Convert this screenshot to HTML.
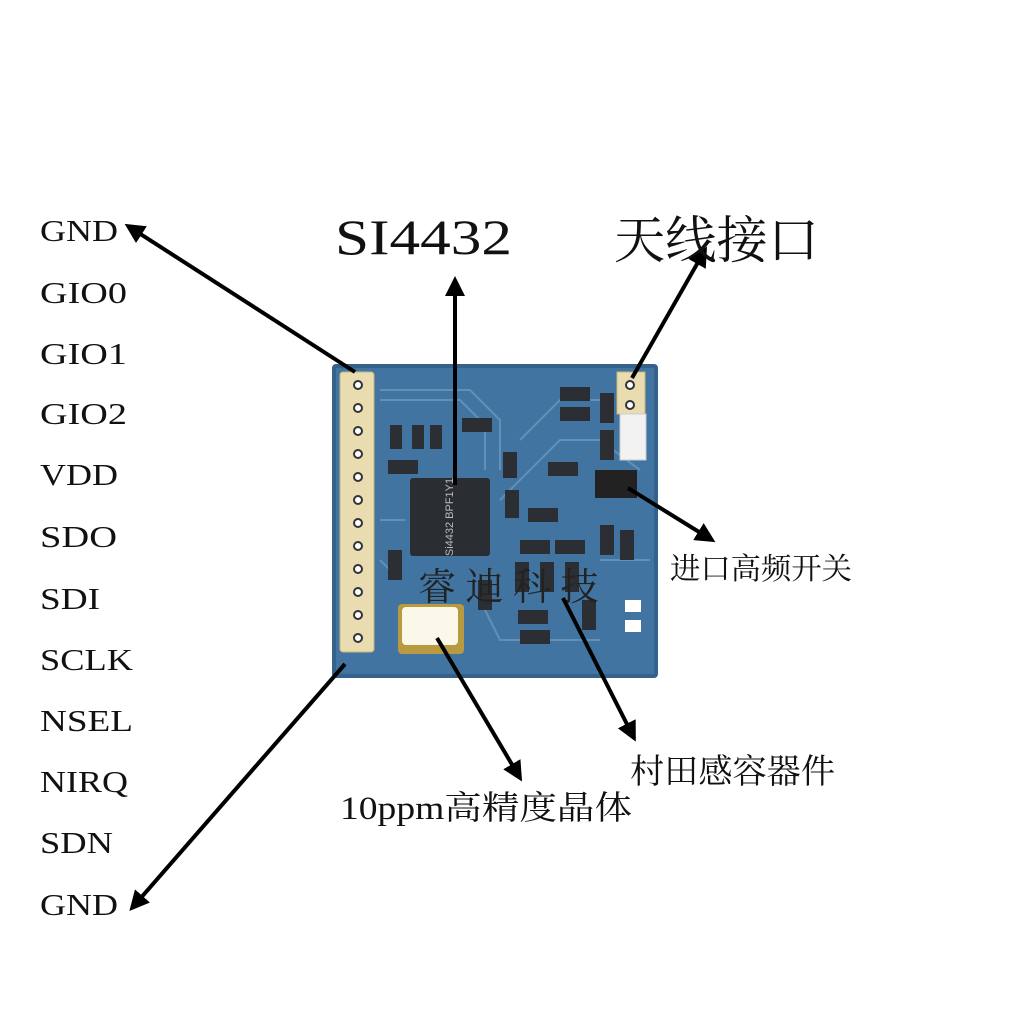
<!DOCTYPE html>
<html><head><meta charset="utf-8"><style>
html,body{margin:0;padding:0;background:#fff;width:1024px;height:1024px;overflow:hidden}
</style></head><body>
<svg width="1024" height="1024" viewBox="0 0 1024 1024" xmlns="http://www.w3.org/2000/svg">
<defs>
<marker id="ah" viewBox="0 0 10 10" refX="8" refY="5" markerWidth="5" markerHeight="5" orient="auto-start-reverse"><path d="M0,0 L10,5 L0,10 z" fill="#000"/></marker>
</defs>
<rect x="332" y="364" width="326" height="314" rx="4" fill="#35628c"/>
<rect x="336" y="368" width="318" height="306" fill="#4174a0"/>
<g stroke="#6f9cc4" stroke-width="2" fill="none" opacity="0.7">
<path d="M380 390 H470 L500 420 V470"/><path d="M380 400 H460 L485 425 V470"/>
<path d="M380 520 H405"/><path d="M500 500 L560 440 H600 L640 470"/>
<path d="M520 440 L560 400 H600"/><path d="M480 600 L500 640 H600"/>
<path d="M600 560 H650"/><path d="M380 560 L400 580"/>
</g>
<g fill="#e8dcb0" stroke="#c8b67a">
<rect x="340" y="372" width="34" height="280" rx="3"/>
<rect x="617" y="372" width="28" height="42"/>
<rect x="620" y="414" width="26" height="46" fill="#f2f2f2" stroke="#ccc"/>
</g>
<g fill="#fff" stroke="#333" stroke-width="2">
<circle cx="358" cy="385" r="4"/><circle cx="358" cy="408" r="4"/><circle cx="358" cy="431" r="4"/><circle cx="358" cy="454" r="4"/><circle cx="358" cy="477" r="4"/><circle cx="358" cy="500" r="4"/><circle cx="358" cy="523" r="4"/><circle cx="358" cy="546" r="4"/><circle cx="358" cy="569" r="4"/><circle cx="358" cy="592" r="4"/><circle cx="358" cy="615" r="4"/><circle cx="358" cy="638" r="4"/>
<circle cx="630" cy="385" r="4"/><circle cx="630" cy="405" r="4"/>
</g>
<rect x="410" y="478" width="80" height="78" rx="3" fill="#2a2e33"/>
<text x="450" y="520" font-family="Liberation Sans,sans-serif" font-size="11" fill="#bbb" text-anchor="middle" transform="rotate(-90 450 517)">Si4432 BPF1Y1</text>
<rect x="398" y="604" width="66" height="50" rx="4" fill="#b89a40"/>
<rect x="402" y="607" width="56" height="38" rx="4" fill="#fbf8ea"/>
<rect x="595" y="470" width="42" height="28" fill="#222"/>
<g fill="#2b2f33">
<rect x="390" y="425" width="12" height="24"/><rect x="412" y="425" width="12" height="24"/><rect x="430" y="425" width="12" height="24"/>
<rect x="388" y="460" width="30" height="14"/><rect x="462" y="418" width="30" height="14"/>
<rect x="503" y="452" width="14" height="26"/><rect x="505" y="490" width="14" height="28"/>
<rect x="528" y="508" width="30" height="14"/><rect x="548" y="462" width="30" height="14"/>
<rect x="560" y="387" width="30" height="14"/><rect x="560" y="407" width="30" height="14"/>
<rect x="600" y="393" width="14" height="30"/><rect x="600" y="430" width="14" height="30"/>
<rect x="520" y="540" width="30" height="14"/><rect x="555" y="540" width="30" height="14"/>
<rect x="600" y="525" width="14" height="30"/><rect x="620" y="530" width="14" height="30"/>
<rect x="515" y="562" width="14" height="30"/><rect x="540" y="562" width="14" height="30"/><rect x="565" y="562" width="14" height="30"/>
<rect x="388" y="550" width="14" height="30"/><rect x="478" y="580" width="14" height="30"/>
<rect x="518" y="610" width="30" height="14"/><rect x="520" y="630" width="30" height="14"/>
<rect x="582" y="600" width="14" height="30"/>
</g>
<rect x="625" y="600" width="16" height="12" fill="#fff"/><rect x="625" y="620" width="16" height="12" fill="#fff"/>
<text x="418" y="600" font-family="Liberation Serif,'Noto Serif CJK SC',serif" font-size="38" fill="#222">睿 迪 科 技</text>
<g stroke="#000" stroke-width="4" fill="none" marker-end="url(#ah)">
<line x1="355" y1="372" x2="128" y2="226"/>
<line x1="345" y1="664" x2="132" y2="908"/>
<line x1="455" y1="485" x2="455" y2="280"/>
<line x1="632" y1="378" x2="705" y2="250"/>
<line x1="628" y1="488" x2="712" y2="540"/>
<line x1="563" y1="598" x2="634" y2="738"/>
<line x1="437" y1="638" x2="520" y2="778"/>
</g>
<g font-family="Liberation Serif,'Noto Serif CJK SC',serif" font-size="31" fill="#111" lengthAdjust="spacingAndGlyphs">
<text x="40" y="241" textLength="78" lengthAdjust="spacingAndGlyphs">GND</text>
<text x="40" y="303" textLength="87" lengthAdjust="spacingAndGlyphs">GIO0</text>
<text x="40" y="364" textLength="87" lengthAdjust="spacingAndGlyphs">GIO1</text>
<text x="40" y="424" textLength="87" lengthAdjust="spacingAndGlyphs">GIO2</text>
<text x="40" y="485" textLength="78" lengthAdjust="spacingAndGlyphs">VDD</text>
<text x="40" y="547" textLength="77" lengthAdjust="spacingAndGlyphs">SDO</text>
<text x="40" y="609" textLength="60" lengthAdjust="spacingAndGlyphs">SDI</text>
<text x="40" y="670" textLength="93" lengthAdjust="spacingAndGlyphs">SCLK</text>
<text x="40" y="731" textLength="93" lengthAdjust="spacingAndGlyphs">NSEL</text>
<text x="40" y="792" textLength="88" lengthAdjust="spacingAndGlyphs">NIRQ</text>
<text x="40" y="853" textLength="73" lengthAdjust="spacingAndGlyphs">SDN</text>
<text x="40" y="915" textLength="78" lengthAdjust="spacingAndGlyphs">GND</text>
</g>
<text x="335" y="254" font-family="Liberation Serif,serif" font-size="50" fill="#111" textLength="177" lengthAdjust="spacingAndGlyphs">SI4432</text>
<text x="614" y="258" font-family="'Noto Serif CJK SC',serif" font-size="51" fill="#111" textLength="205" lengthAdjust="spacingAndGlyphs">天线接口</text>
<text x="670" y="579" font-family="'Noto Serif CJK SC',serif" font-size="30" fill="#111" textLength="182" lengthAdjust="spacingAndGlyphs">进口高频开关</text>
<text x="630" y="783" font-family="'Noto Serif CJK SC',serif" font-size="34" fill="#111" textLength="205" lengthAdjust="spacingAndGlyphs">村田感容器件</text>
<text x="340" y="819" font-family="Liberation Serif,'Noto Serif CJK SC',serif" font-size="33" fill="#111" textLength="292" lengthAdjust="spacingAndGlyphs">10ppm高精度晶体</text>
</svg>
</body></html>
